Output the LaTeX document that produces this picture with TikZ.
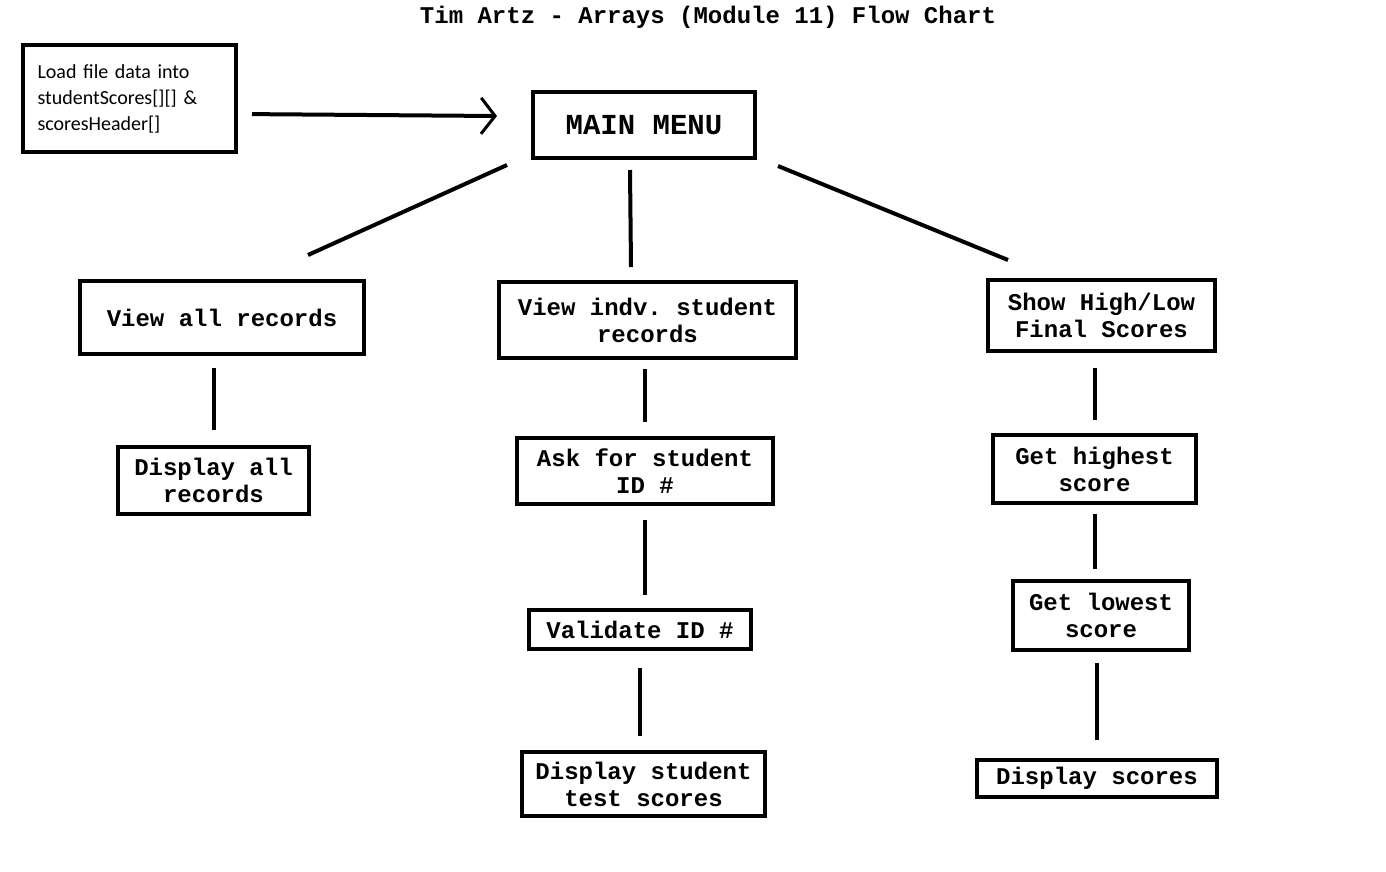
\documentclass[tikz,border=0pt]{standalone}
\usepackage{fontspec}
\setmonofont{Liberation Mono}
\newfontfamily\calibrifont{Carlito}
\usetikzlibrary{arrows.meta, positioning, calc}
\tikzset{
  procbox/.style={draw=black,line width=4pt,inner sep=0pt,align=center,font=\ttfamily\bfseries\fontsize{24}{27}\selectfont},
  loadbox/.style={draw=black,line width=4pt,align=left,inner xsep=14.5pt,text width=184pt,minimum height=107pt,font=\calibrifont\fontsize{20}{26}\selectfont},
  link/.style={line width=4pt,black},
  flow/.style={link,-{Straight Barb[length=14pt,width=36pt,line width=3pt]}},
}
\begin{document}
\begin{tikzpicture}[x=1pt,y=-1pt]
	    \useasboundingbox (0,0) rectangle (1386,871);
	    \node[font=\ttfamily\bfseries\fontsize{24}{27}\selectfont] (title) at (708,17) {Tim Artz - Arrays (Module 11) Flow Chart};
	    \node[loadbox] (load) at (129.5,98.5) {Load file data into\\studentScores[][] \&\\scoresHeader[]};
	    \node[procbox,minimum width=222pt,minimum height=66pt,font=\ttfamily\bfseries\fontsize{29}{32}\selectfont] (menu) at (644,125) {MAIN MENU};
	    % left column
	    \node[procbox,minimum width=284pt,minimum height=73pt] (viewall) at (222,317.5) {View all records};
	    \node[procbox,minimum width=191pt,minimum height=67pt] (dispall) at (213.5,480.5) {Display all\\records};
	    % middle column
	    \node[procbox,minimum width=297pt,minimum height=76pt] (viewone) at (647.5,320) {View indv. student\\records};
	    \node[procbox,minimum width=256pt,minimum height=66pt] (askid) at (645,471) {Ask for student\\ID \#};
	    \node[procbox,minimum width=222pt,minimum height=39pt] (valid) at (640,629.5) {Validate ID \#};
	    \node[procbox,minimum width=243pt,minimum height=64pt] (dispone) at (643.5,784) {Display student\\test scores};
	    % right column
	    \node[procbox,minimum width=227pt,minimum height=71pt] (hilo) at (1101.5,315.5) {Show High/Low\\Final Scores};
	    \node[procbox,minimum width=203pt,minimum height=68pt] (high) at (1094.5,469) {Get highest\\score};
	    \node[procbox,minimum width=176pt,minimum height=69pt] (low) at (1101,615.5) {Get lowest\\score};
	    \node[procbox,minimum width=240pt,minimum height=37pt] (dispsc) at (1097,778.5) {Display scores};
	    % loose ends of the menu branches
	    \coordinate (m1) at (507,165);
	    \coordinate (b1) at (308,255);
	    \coordinate (m2) at (630,170);
	    \coordinate (b2) at (631,267);
	    \coordinate (m3) at (778,166);
	    \coordinate (b3) at (1008,260);
	    \draw[flow,shorten <=14pt,shorten >=0pt] ([yshift=-15.5pt]load.east) -- ([xshift=-34pt,yshift=9pt]menu.west);
	    \draw[link] (m1) -- (b1);
	    \draw[link] (m2) -- (b2);
	    \draw[link] (m3) -- (b3);
	    \draw[link,shorten <=12pt,shorten >=15pt] (dispall.north |- viewall.south) -- (dispall.north);
	    \draw[link,shorten <=9pt,shorten >=14pt] (askid.north |- viewone.south) -- (askid.north);
	    \draw[link,shorten <=14pt,shorten >=13pt] (askid.south) -- (askid.south |- valid.north);
	    \draw[link,shorten <=17pt,shorten >=14pt] (valid.south) -- (valid.south |- dispone.north);
	    \draw[link,shorten <=15pt,shorten >=13pt] (high.north |- hilo.south) -- (high.north);
	    \draw[link,shorten <=9pt,shorten >=10pt] (high.south) -- (high.south |- low.north);
	    \draw[link,shorten <=11pt,shorten >=18pt] (dispsc.north |- low.south) -- (dispsc.north);
	\end{tikzpicture}
\end{document}
